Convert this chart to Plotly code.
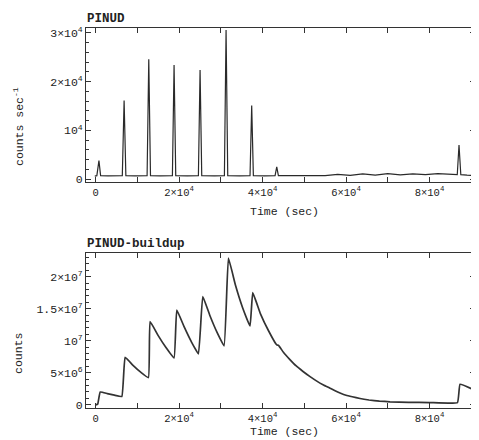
import plotly.graph_objects as go

# ---- top panel: PINUD count rate (counts/sec) ----
rate_time = [-200, 300, 800, 1200, 3000, 6400, 6830, 7250, 9500, 12340, 12740, 13150, 15500,
             18400, 18800, 19200, 22000, 24630, 25030, 25430, 28500, 30860, 31260, 31660,
             34500, 37000, 37400, 37800, 40500, 43000, 43400, 43800, 48000, 52000, 55000,
             58000, 61000, 64000, 67000, 70000, 73000, 76000, 79000, 82000, 85000, 86650,
             87070, 87500, 89000, 90600]
rate_vals = [600, 700, 3800, 700, 650, 700, 16100, 700, 650, 700, 24600, 700, 650,
             700, 23400, 700, 650, 700, 22400, 700, 650, 700, 30600, 700,
             650, 700, 15100, 700, 650, 700, 2500, 700, 700, 750, 700,
             950, 750, 1050, 800, 1100, 850, 1050, 900, 1100, 900, 900,
             7000, 900, 800, 750]

# ---- bottom panel: PINUD buildup (counts) ----
build_time = [0, 500, 1100, 2800, 4500, 6280,
              7070, 8900, 10800, 12650,
              13050, 15000, 16900, 18800,
              19450, 21200, 22900, 24630,
              25680, 27400, 29100, 30780,
              31820, 33500, 35200, 37000,
              37650, 39500, 41400, 43400,
              43800, 45000, 46500, 48000, 49700, 51380, 53000, 54600, 56170, 57500,
              58560, 60000, 61500, 63350, 65500, 68000, 70540, 75000, 80000, 86700,
              87310, 90400]
build_vals = [0.0e6, 0.1e6, 2.0e6, 1.75e6, 1.5e6, 1.3e6,
              7.4e6, 6.2e6, 5.1e6, 4.25e6,
              13.0e6, 10.8e6, 8.9e6, 7.3e6,
              14.8e6, 12.2e6, 9.9e6, 7.95e6,
              16.9e6, 13.9e6, 11.3e6, 9.2e6,
              22.9e6, 18.7e6, 15.2e6, 12.3e6,
              17.5e6, 14.2e6, 11.6e6, 9.35e6,
              9.3e6, 8.2e6, 7.1e6, 6.1e6, 5.2e6, 4.4e6, 3.7e6, 3.1e6, 2.6e6, 2.15e6,
              1.85e6, 1.5e6, 1.25e6, 0.98e6, 0.75e6, 0.58e6, 0.47e6, 0.38e6, 0.35e6, 0.35e6,
              3.2e6, 2.4e6]

# ---- tick labels ----
x_tickvals = [0, 20000, 40000, 60000, 80000]
x_ticktext = ["0", "2×10<sup>4</sup>", "4×10<sup>4</sup>", "6×10<sup>4</sup>", "8×10<sup>4</sup>"]
top_y_tickvals = [0, 10000, 20000, 30000]
top_y_ticktext = ["0", "10<sup>4</sup>", "2×10<sup>4</sup>", "3×10<sup>4</sup>"]
bot_y_tickvals = [0, 5e6, 1e7, 1.5e7, 2e7]
bot_y_ticktext = ["0", "5×10<sup>6</sup>", "10<sup>7</sup>", "1.5×10<sup>7</sup>", "2×10<sup>7</sup>"]

FONT = "Liberation Mono"
OFF = 8            # page body margin
W, H = 479 - OFF, 440 - OFF


def fx(px):
    return (px - OFF) / W


def fy(py):
    return 1 - (py - OFF) / H


fig = go.Figure()
fig.add_trace(go.Scatter(x=rate_time, y=rate_vals, mode="lines",
                         line=dict(color="#2a2a2a", width=1.2), xaxis="x", yaxis="y",
                         showlegend=False))
fig.add_trace(go.Scatter(x=build_time, y=build_vals, mode="lines",
                         line=dict(color="#333333", width=1.7, shape="spline", smoothing=0.3),
                         xaxis="x2", yaxis="y2", showlegend=False))

xdom = [fx(86), fx(475)]
common_axis = dict(showline=True, linecolor="#333", linewidth=1, mirror="ticks",
                   ticks="inside", ticklen=5, tickcolor="#333", showgrid=False,
                   zeroline=False, automargin=False)
xfont = dict(family=FONT, size=10.5, color="#222")
yfont = dict(family=FONT, size=11.5, color="#222")
xminor = dict(ticks="inside", ticklen=5, dtick=10000, tick0=0, tickcolor="#333")

fig.update_layout(
    width=W, height=H,
    margin=dict(l=0, r=0, t=0, b=0),
    paper_bgcolor="white", plot_bgcolor="white",
    xaxis=dict(domain=xdom, range=[-2300, 90900], anchor="y", tickfont=xfont,
               tickmode="array", tickvals=x_tickvals, ticktext=x_ticktext, minor=xminor,
               **common_axis),
    yaxis=dict(domain=[fy(182), fy(28)], range=[-600, 31000], anchor="x", tickfont=yfont,
               tickmode="array", tickvals=top_y_tickvals, ticktext=top_y_ticktext,
               minor=dict(ticks="inside", ticklen=3, dtick=2000, tick0=0, tickcolor="#333"),
               **common_axis),
    xaxis2=dict(domain=xdom, range=[-2300, 90900], anchor="y2", tickfont=xfont,
                tickmode="array", tickvals=x_tickvals, ticktext=x_ticktext, minor=xminor,
                **common_axis),
    yaxis2=dict(domain=[fy(408), fy(253)], range=[-0.5e6, 23.7e6], anchor="x2", tickfont=yfont,
                tickmode="array", tickvals=bot_y_tickvals, ticktext=bot_y_ticktext,
                minor=dict(ticks="inside", ticklen=3, dtick=1e6, tick0=0, tickcolor="#333"),
                **common_axis),
)


def ann(text, px, py, size=11.5, angle=0, xanchor="center", bold=False):
    t = f"<b>{text}</b>" if bold else text
    fig.add_annotation(text=t, x=fx(px), y=fy(py), xref="paper", yref="paper",
                       showarrow=False, textangle=angle, xanchor=xanchor, yanchor="middle",
                       font=dict(family=FONT, size=size, color="#222"))


ann("PINUD", 85, 19, size=12.5, xanchor="left", bold=True)
ann("PINUD-buildup", 85, 244, size=12.5, xanchor="left", bold=True)
ann("counts sec<sup>-1</sup>", 18, 127, angle=-90)
ann("counts", 18, 354, angle=-90)
ann("Time (sec)", 284, 211)
ann("Time (sec)", 284, 431)

fig.write_html("out.html")
